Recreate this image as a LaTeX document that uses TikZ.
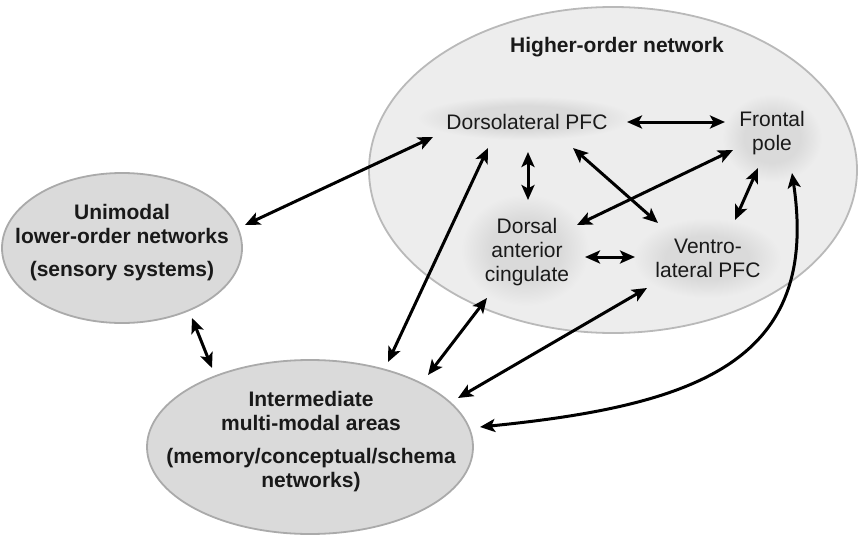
\documentclass[tikz,border=0pt]{standalone}
\usepackage{fontspec}
\setmainfont{Liberation Sans}
\usetikzlibrary{arrows.meta,shapes.geometric}
\definecolor{bigfill}{RGB}{237,237,237}
\definecolor{bigline}{RGB}{185,185,185}
\definecolor{smallfill}{RGB}{218,218,218}
\definecolor{smallline}{RGB}{170,170,170}
\definecolor{halocol}{RGB}{218,218,218}
\definecolor{txt}{RGB}{25,25,25}
\pgfdeclareradialshading{halo}{\pgfpoint{0bp}{0bp}}{color(0bp)=(halocol); color(14bp)=(halocol); color(25bp)=(bigfill); color(50bp)=(bigfill)}
\tikzset{
  region/.style={ellipse, inner sep=0pt, line width=1.8pt},
  lbl/.style={align=center, text=txt, inner sep=0pt, font=\fontsize{21}{24}\selectfont},
  blbl/.style={lbl, font=\fontsize{21}{24}\selectfont\bfseries},
  arr/.style={line width=3pt, {Stealth[length=15pt,width=13pt,inset=3.5pt]}-{Stealth[length=15pt,width=13pt,inset=3.5pt]}}
}
\begin{document}
\begin{tikzpicture}[x=1pt,y=-1pt]
\useasboundingbox (0,0) rectangle (860,535);
% regions
\node[region, draw=bigline, fill=bigfill, minimum width=488pt, minimum height=326pt] (high) at (613,170) {};
\node[region, draw=smallline, fill=smallfill, minimum width=240pt, minimum height=150pt] (uni) at (122,248) {};
\node[region, draw=smallline, fill=smallfill, minimum width=326pt, minimum height=174pt] (inter) at (310,447) {};
% halos
\shade[shading=halo] (525,118) ellipse [x radius=108pt, y radius=22pt];
\shade[shading=halo] (772,138) ellipse [x radius=50pt, y radius=44pt];
\shade[shading=halo] (525,250) ellipse [x radius=64pt, y radius=56pt];
\shade[shading=halo] (707,258) ellipse [x radius=74pt, y radius=40pt];
% labels
\node[blbl] (hightext) at (617,47) {Higher-order network};
\node[blbl] (unitext) at (122,243) {Unimodal\\lower-order networks\\[9pt](sensory systems)};
\node[blbl] (intertext) at (311,442) {Intermediate\\multi-modal areas\\[9pt](memory/conceptual/schema\\networks)};
\node[lbl] (dl) at (527,122) {Dorsolateral PFC};
\node[lbl] (fp) at (772,133) {Frontal\\pole};
\node[lbl] (dac) at (527,252) {Dorsal\\anterior\\cingulate};
\node[lbl] (vl) at (708,258) {Ventro-\\lateral PFC};
% connectors
\draw[arr] ([shift={(123,-23)}]uni.center) -- ([shift={(-94,15)}]dl.center);
\draw[arr] ([shift={(70,70)}]uni.center) -- ([shift={(-98,-79)}]inter.center);
\draw[arr] ([shift={(78,-85)}]inter.center) -- ([shift={(-39,26)}]dl.center);
\draw[arr] ([shift={(118,-72)}]inter.center) -- ([shift={(-40,46)}]dac.center);
\draw[arr] ([shift={(148,-49)}]inter.center) -- ([shift={(-61,30)}]vl.center);
\draw[arr] ([shift={(170,-20)}]inter.center) .. controls (700,405) and (820,360) .. ([shift={(20,40)}]fp.center);
\draw[arr] ([shift={(100,0)}]dl.center) -- ([shift={(-47,-11)}]fp.center);
\draw[arr] ([shift={(1,30)}]dl.center) -- ([shift={(1,-52)}]dac.center);
\draw[arr] ([shift={(46,26)}]dl.center) -- ([shift={(-50,-35)}]vl.center);
\draw[arr] ([shift={(-39,17)}]fp.center) -- ([shift={(50,-27)}]dac.center);
\draw[arr] ([shift={(-14,35)}]fp.center) -- ([shift={(27,-38)}]vl.center);
\draw[arr] ([shift={(58,5)}]dac.center) -- ([shift={(-73,-1)}]vl.center);
\end{tikzpicture}
\end{document}
